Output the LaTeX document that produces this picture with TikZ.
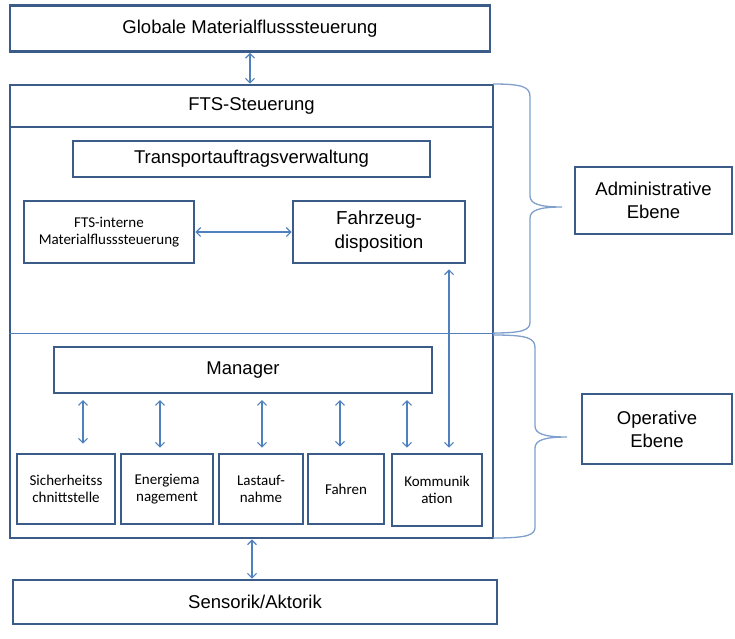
\documentclass[tikz,border=0pt]{standalone}
\usepackage{fontspec}
\setmainfont{Liberation Sans}
\newfontfamily\carlfont{Carlito}
\usetikzlibrary{arrows.meta}
\definecolor{boxblue}{HTML}{3B5B88}
\definecolor{arrblue}{HTML}{4F81BD}
\definecolor{braceblue}{HTML}{7F9FCC}
\begin{document}
\begin{tikzpicture}[x=1pt,y=-1pt,
  box/.style={draw=boxblue,line width=2.6pt,fill=white,inner sep=0pt,align=center,font=\fontsize{18.5}{23}\selectfont},
  smallbox/.style={box,font=\carlfont\fontsize{15}{17}\selectfont},
  arr/.style={draw=arrblue,line width=1.2pt,{Straight Barb[length=4.5pt,width=9pt]}-{Straight Barb[length=4.5pt,width=9pt]}},
  bracestyle/.style={draw=braceblue,line width=1.3pt},
  sepline/.style={draw=arrblue,line width=0.8pt}]
\useasboundingbox (0,0) rectangle (735,638);
% boxes
\node[box,minimum width=480pt,minimum height=46pt] (glob) at (250,28.5) {Globale Materialflusssteuerung};
\node[box,minimum width=483pt,minimum height=411pt] (ctrl) at (251.5,332.5) {};
\node[box,minimum width=483pt,minimum height=42pt] (fts) at (251.5,106) {FTS-Steuerung};
\node[box,line width=2pt,minimum width=357pt,minimum height=36pt] (tav) at (251.5,159) {Transportauftragsverwaltung};
\node[smallbox,minimum width=170pt,minimum height=62pt] (fim) at (109,232) {FTS-interne\\Materialflusssteuerung};
\node[box,minimum width=172pt,minimum height=62pt,font=\fontsize{18.8}{24}\selectfont] (fahr) at (379,232) {Fahrzeug-\\disposition};
\node[box,line width=2pt,minimum width=378pt,minimum height=46pt] (man) at (243,370) {Manager};
\node[smallbox,minimum width=98pt,minimum height=70pt] (sich) at (66,489) {Sicherheitss\\chnittstelle};
\node[smallbox,minimum width=92pt,minimum height=70pt] (ener) at (167,489) {Energiema\\nagement};
\node[smallbox,minimum width=84pt,minimum height=70pt] (last) at (261,489) {Lastauf-\\nahme};
\node[smallbox,minimum width=76pt,minimum height=70pt] (fahren) at (346,489) {Fahren};
\node[smallbox,minimum width=90pt,minimum height=72pt] (komm) at (437,490) {Kommunik\\ation};
\node[box,minimum width=484pt,minimum height=44pt] (sens) at (255,602) {Sensorik/Aktorik};
\node[box,minimum width=157pt,minimum height=67pt] (adm) at (653.5,200.5) {Administrative\\Ebene};
\node[box,minimum width=150pt,minimum height=70pt] (ope) at (657,429) {Operative\\Ebene};
% separator line
\coordinate (sepL) at (ctrl.west |- 0,333);
\coordinate (sepR) at (495,333);
\draw[sepline] (sepL) -- (sepR);
% braces
\draw[bracestyle] (493,84) .. controls (523,84) and (530,87) .. (530,97) -- (530,196)
  .. controls (530,204) and (540,207) .. (562,207)
  .. controls (540,207) and (530,210) .. (530,218) -- (530,322)
  .. controls (530,330) and (523,333) .. (493,333);
\draw[bracestyle] (493,335) .. controls (528,335) and (535,338) .. (535,348) -- (535,426)
  .. controls (535,434) and (545,437) .. (567,437)
  .. controls (545,437) and (535,440) .. (535,448) -- (535,527)
  .. controls (535,535) and (528,538) .. (493,538);
% arrows
\draw[arr] (glob.south -| 250,0) -- (fts.north -| 250,0);
\draw[arr] (fim.east) -- (fahr.west);
\draw[arr] ([yshift=-5pt]fahr.south -| 449,0) -- ([yshift=5pt]komm.north -| 449,0);
\draw[arr] ([yshift=-6pt]man.south -| 83,0) -- ([yshift=9pt]sich.north -| 83,0);
\draw[arr] ([yshift=-6pt]man.south -| 160,0) -- ([yshift=5pt]ener.north -| 160,0);
\draw[arr] ([yshift=-6pt]man.south -| 262,0) -- ([yshift=5pt]last.north -| 262,0);
\draw[arr] ([yshift=-6pt]man.south -| 340,0) -- ([yshift=6pt]fahren.north -| 340,0);
\draw[arr] ([yshift=-6pt]man.south -| 407,0) -- ([yshift=5pt]komm.north -| 407,0);
\draw[arr] (ctrl.south -| 252,0) -- (sens.north -| 252,0);
\end{tikzpicture}
\end{document}
